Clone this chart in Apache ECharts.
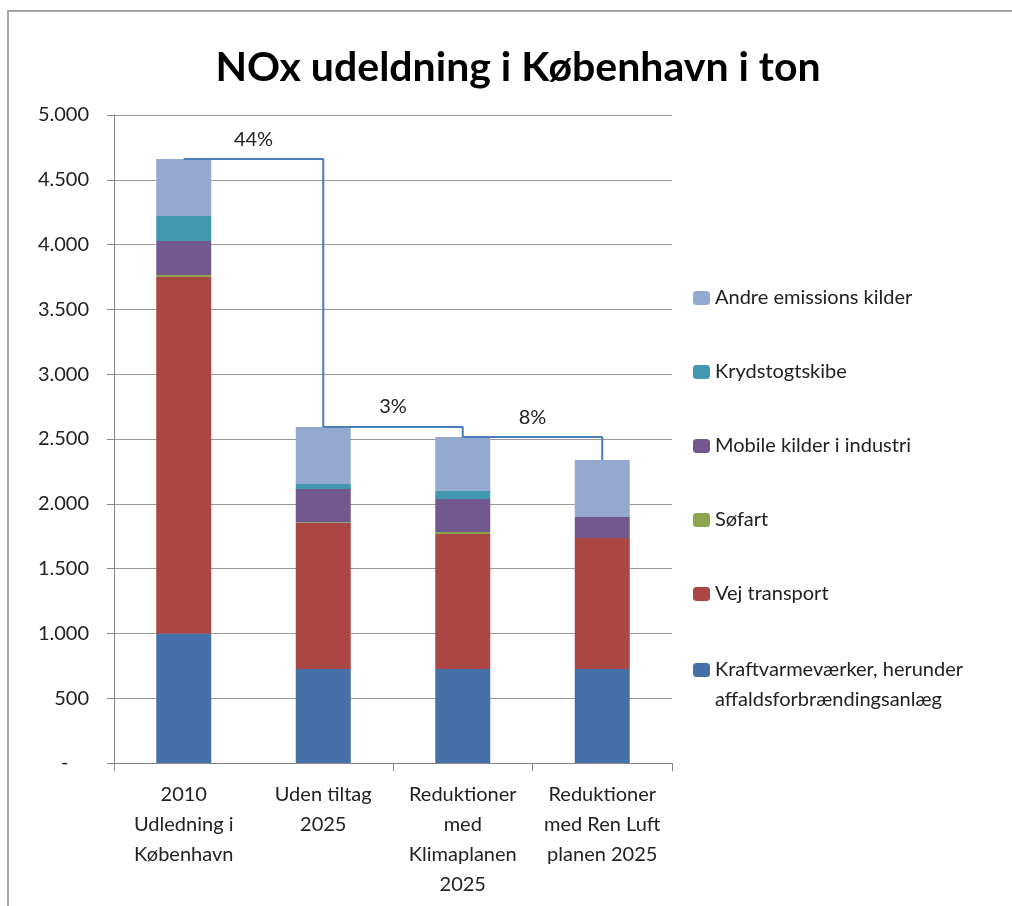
<!DOCTYPE html>
<html>
<head>
<meta charset="utf-8">
<script src="https://cdn.jsdelivr.net/npm/echarts@6/dist/echarts.min.js"></script>
<style>
  html, body { margin: 0; padding: 0; background: #fff; }
  #chart { width: 1012px; height: 906px; }
</style>
</head>
<body>
<div id="chart"></div>
<script>
// kategorier og værdier (ton NOx)
var categories = ['2010\nUdledning i\nKøbenhavn', 'Uden tiltag\n2025', 'Reduktioner\nmed\nKlimaplanen\n2025', 'Reduktioner\nmed Ren Luft\nplanen 2025'];
var kraftvarme = [1000, 725, 725, 725];
var vejTransport = [2750, 1127, 1042, 1011];
var soefart = [15, 5, 15, 0];
var mobileKilder = [263, 257, 255, 162];
var krydstogt = [193, 39, 62, 0];
var andreKilder = [439, 440, 416, 440];
var reduktioner = ['44%', '3%', '8%'];

var names = ['Kraftvarmeværker, herunder\naffaldsforbrændingsanlæg', 'Vej transport', 'Søfart',
  'Mobile kilder i industri', 'Krydstogtskibe', 'Andre emissions kilder'];
var colors = ['#4571A8', '#AA4643', '#89A54E', '#71588F', '#4198AF', '#93A9CF'];
var values = [kraftvarme, vejTransport, soefart, mobileKilder, krydstogt, andreKilder];

var totals = categories.map(function (c, i) {
  return values.reduce(function (s, arr) { return s + arr[i]; }, 0);
});

var font = 'Lato';
var chart = echarts.init(document.getElementById('chart'));

var series = names.map(function (n, k) {
  return {
    name: n,
    type: 'bar',
    stack: 'nox',
    barWidth: 55,
    itemStyle: { color: colors[k] },
    data: values[k]
  };
});
// trappelinje mellem søjletoppene
series.push({
  name: 'total',
  type: 'line',
  step: 'end',
  symbol: 'none',
  z: 5,
  lineStyle: { color: '#4A7EBB', width: 2 },
  data: totals
});

var legendText = { fontFamily: font, fontSize: 20, color: '#222', lineHeight: 30 };

var option = {
  backgroundColor: '#ffffff',
  animation: false,
  grid: { left: 114, right: 340, top: 115, bottom: 143 },
  legend: [{
    orient: 'vertical',
    left: 693,
    top: 283,
    padding: 0,
    itemGap: 44,
    itemWidth: 17,
    itemHeight: 14,
    textStyle: legendText,
    data: names.slice(1).reverse()
  }, {
    // tom første linje, så ikonet flugter med første tekstlinje
    orient: 'vertical',
    left: 693,
    top: 625,
    padding: 0,
    itemWidth: 17,
    itemHeight: 14,
    textStyle: legendText,
    formatter: function (n) { return ' \n' + n; },
    data: [names[0]]
  }],
  xAxis: {
    type: 'category',
    data: categories,
    axisLine: { lineStyle: { color: '#868686', width: 1 } },
    axisTick: { show: true, interval: 1, length: 8, lineStyle: { color: '#868686' } },
    axisLabel: { interval: 0, margin: 17, fontFamily: font, fontSize: 20, lineHeight: 30, color: '#222', align: 'center' }
  },
  yAxis: {
    type: 'value',
    min: 0,
    max: 5000,
    interval: 500,
    axisLine: { show: true, lineStyle: { color: '#868686' } },
    axisTick: { show: true, length: 7, lineStyle: { color: '#868686' } },
    splitLine: { lineStyle: { color: '#9a9a9a', width: 1 } },
    axisLabel: {
      margin: 25,
      fontFamily: font,
      fontSize: 20,
      color: '#222',
      formatter: function (v) {
        if (v === 0) return '-    ';
        return v >= 1000 ? Math.floor(v / 1000) + '.' + String(v % 1000).padStart(3, '0') : String(v);
      }
    }
  },
  series: series
};

chart.setOption(option);

// procentetiketter midt mellem søjlerne, over trappelinjen
var pts = totals.map(function (t, i) { return chart.convertToPixel({ gridIndex: 0 }, [i, t]); });
var graphics = [{
  type: 'rect',
  shape: { x: 8, y: 11, width: 1100, height: 1000 },
  style: { fill: 'none', stroke: '#a6a6a6', lineWidth: 2 },
  silent: true
}, {
  type: 'text',
  style: { text: 'NOx udeldning i København i ton', x: 518, y: 68, align: 'center', verticalAlign: 'middle', font: 'bold 41px Lato', fill: '#000' }
}];
reduktioner.forEach(function (txt, j) {
  graphics.push({
    type: 'text',
    style: {
      text: txt,
      x: (pts[j][0] + pts[j + 1][0]) / 2,
      y: pts[j][1] - 20,
      align: 'center',
      verticalAlign: 'middle',
      font: '20px Lato',
      fill: '#222'
    }
  });
});
chart.setOption({ graphic: graphics });
</script>
</body>
</html>
